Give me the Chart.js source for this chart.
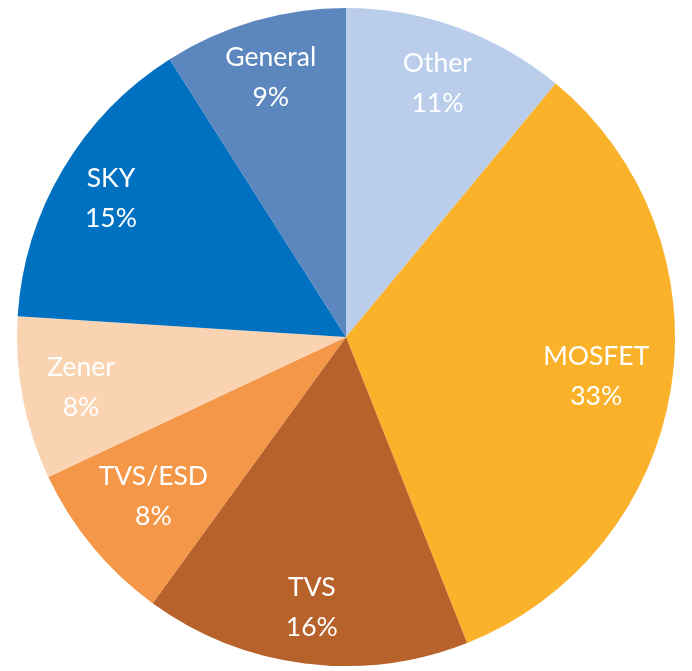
<!DOCTYPE html>
<html>
<head>
<meta charset="utf-8">
<script src="https://cdn.jsdelivr.net/npm/chart.js@4/dist/chart.umd.min.js"></script>
<style>
html,body{margin:0;padding:0;background:#fff;}
#wrap{width:692px;height:671px;}
</style>
</head>
<body>
<div id="wrap"><canvas id="c" width="692" height="671"></canvas></div>
<script>
const categories = ["Other", "MOSFET", "TVS", "TVS/ESD", "Zener", "SKY", "General"];
const shares = [11, 33, 16, 8, 8, 15, 9];
const sliceColors = ["#BACEEC", "#FBB22B", "#B8622B", "#F59748", "#FAD3B2", "#0070C0", "#5C87BE"];
const labelRadius = [0.82, 0.77, 0.83, 0.76, 0.82, 0.83, 0.82];

const labelPlugin = {
  id: 'sliceLabels',
  afterDatasetsDraw(chart) {
    const ctx = chart.ctx;
    const meta = chart.getDatasetMeta(0);
    ctx.save();
    ctx.fillStyle = '#ffffff';
    ctx.font = '26.5px Lato, "Open Sans", sans-serif';
    ctx.textAlign = 'center';
    ctx.textBaseline = 'middle';
    meta.data.forEach((arc, i) => {
      const p = arc.getProps(['x','y','startAngle','endAngle','outerRadius'], true);
      const mid = (p.startAngle + p.endAngle) / 2;
      const r = p.outerRadius * labelRadius[i];
      const x = p.x + Math.cos(mid) * r;
      const y = p.y + Math.sin(mid) * r;
      ctx.fillText(categories[i], x, y - 20);
      ctx.fillText(shares[i] + '%', x, y + 20);
    });
    ctx.restore();
  }
};

new Chart(document.getElementById('c'), {
  type: 'pie',
  data: {
    labels: categories,
    datasets: [{
      data: shares,
      backgroundColor: sliceColors,
      borderWidth: 0
    }]
  },
  options: {
    responsive: false,
    animation: false,
    layout: { padding: { top: 8, bottom: 5, left: 17, right: 17 } },
    plugins: { legend: { display: false }, tooltip: { enabled: false } }
  },
  plugins: [labelPlugin]
});
</script>
</body>
</html>
